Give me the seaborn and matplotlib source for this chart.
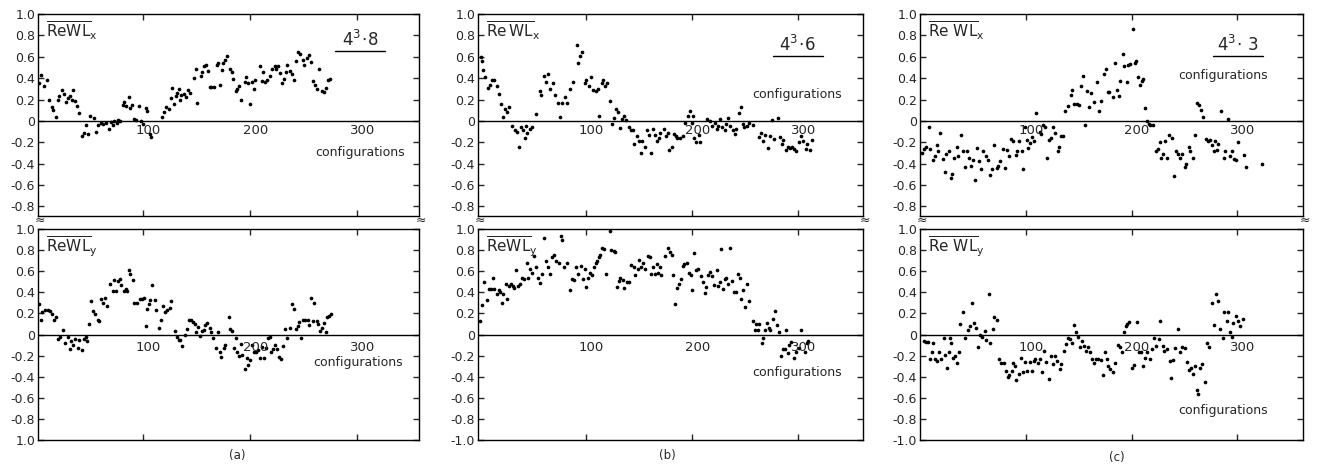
import numpy as np
import pandas as pd
import matplotlib
matplotlib.use('Agg')
import matplotlib.pyplot as plt
import seaborn as sns
from matplotlib.lines import Line2D

sns.set_style('ticks')
plt.rcParams['font.family'] = ['DejaVu Sans']

# ---------------- data (configuration number, value) ----------------
a_upper = [(3,0.35),(5,0.43),(8,0.33),(10,0.38),(12,0.20),(15,0.13),(16,0.10),(19,0.04),(21,0.20),(22,0.23),
           (24,0.29),(26,0.25),(28,0.18),(30,0.21),(32,0.23),(34,0.20),(35,0.29),(37,0.19),(38,0.14),(40,0.07),
           (43,-0.14),(45,-0.11),(47,-0.04),(49,-0.12),(51,0.05),(54,0.03),(56,-0.10),(58,-0.04),(61,-0.02),(63,-0.03),
           (66,-0.02),(68,-0.08),(70,-0.01),(72,-0.04),(73,0.00),(76,-0.02),(77,0.01),(79,0.00),(81,0.15),(82,0.18),
           (84,0.14),(87,0.22),(88,0.12),(90,0.15),(92,0.02),(94,0.01),(96,0.14),(98,0.00),(100,-0.03),(103,0.12),
           (104,0.09),(107,-0.12),(108,-0.15),(118,0.04),(120,0.08),(122,0.13),(124,0.11),(126,0.21),(127,0.31),(129,0.16),
           (131,0.23),(132,0.26),(134,0.30),(135,0.20),(136,0.24),(138,0.25),(140,0.22),(142,0.29),(144,0.26),(148,0.40),
           (150,0.49),(151,0.17),(154,0.42),(155,0.46),(157,0.51),(159,0.52),(161,0.47),(163,0.32),(164,0.32),(166,0.32),
           (169,0.52),(170,0.54),(172,0.34),(174,0.48),(175,0.54),(177,0.57),(179,0.61),(181,0.49),(183,0.46),(184,0.39),
           (187,0.28),(188,0.30),(190,0.33),(192,0.20),(195,0.36),(196,0.41),(198,0.35),(200,0.16),(202,0.36),(204,0.30),
           (205,0.38),(209,0.51),(211,0.37),(212,0.46),(214,0.36),(216,0.38),(219,0.42),(221,0.49),(223,0.51),(224,0.49),
           (226,0.51),(228,0.45),(230,0.35),(232,0.39),(234,0.46),(235,0.52),(237,0.47),(239,0.44),(241,0.38),(243,0.56),
           (245,0.64),(247,0.63),(250,0.57),(251,0.52),(253,0.59),(255,0.62),(257,0.55),(259,0.37),(261,0.34),(263,0.30),
           (265,0.49),(267,0.28),(269,0.27),(271,0.31),(273,0.38),(275,0.39)]

a_lower = [(3,0.29),(5,0.14),(6,0.21),(9,0.23),(11,0.23),(13,0.22),(15,0.19),(16.5,0.14),(19,0.17),(21,-0.04),
           (23,-0.02),(25.6,0.04),(27,-0.08),(30,-0.02),(32,-0.14),(33,-0.06),(35,-0.10),(37,-0.04),(39,-0.13),(40.6,-0.05),
           (43,-0.15),(45,-0.04),(47,-0.02),(48,-0.06),(50,0.10),(51.6,0.32),(53,0.22),(55.6,0.19),(58,0.14),(59,0.13),
           (61,0.34),(63,0.30),(65,0.35),(66.5,0.27),(69.7,0.48),(72,0.41),(73.4,0.52),(75,0.41),(77,0.51),(78.7,0.53),
           (80,0.47),(82,0.41),(84,0.43),(85,0.41),(87,0.61),(88,0.57),(90.6,0.52),(92,0.30),(94.7,0.30),(97,0.34),
           (99,0.34),(101,0.35),(102.5,0.08),(104,0.24),(105.6,0.29),(107,0.33),(108.8,0.47),(111,0.33),(112.5,0.23),(114.7,0.06),
           (117,0.14),(119,0.27),(121,0.21),(123,0.23),(125,0.25),(126.5,0.32),(129.7,0.03),(132,-0.02),(134,-0.05),(135,-0.05),
           (137,-0.11),(139,0.00),(141,0.05),(143,0.14),(144.7,0.14),(147,0.12),(148.4,0.10),(150,0.02),(151.6,0.07),(153,-0.01),
           (155,0.03),(157,0.04),(158,0.09),(160,0.11),(162.5,0.06),(164,0.02),(165.6,-0.03),(168,-0.13),(170,0.02),(172,-0.17),
           (173,-0.21),(176,-0.13),(177,-0.10),(180,0.17),(181,0.05),(183,0.03),(185,-0.13),(187,-0.03),(188,-0.17),(190,-0.20),
           (191.6,-0.09),(193,-0.19),(195,-0.33),(197,-0.22),(198,-0.29),(200,-0.24),(202,-0.10),(204,-0.17),(206,-0.17),(208,-0.15),
           (209,-0.22),(211,-0.12),(213,-0.22),(215,-0.13),(217,-0.03),(219,-0.02),(220,-0.17),(222,-0.14),(223,-0.10),(225,-0.14),
           (227,-0.21),(229,-0.23),(231,-0.11),(233,0.05),(235,-0.03),(237,0.06),(239,0.29),(241,0.24),(243,0.05),(245,0.08),
           (246,0.12),(248,-0.03),(250,0.14),(251.6,0.14),(254,0.14),(255.6,0.09),(257,0.35),(259,0.13),(260,0.30),(262.5,0.13),
           (264,0.10),(265.6,0.03),(267,0.06),(269,0.11),(271,0.02),(272,0.17),(274,0.18),(276,0.19)]

b_upper = [(1,0.60),(2,0.56),(3,0.48),(5,0.41),(7,0.31),(9,0.34),(11,0.38),(13.5,0.38),(16,0.33),(17.7,0.25),
           (20,0.16),(21.5,0.04),(23.7,0.11),(25.5,0.08),(27,0.13),(30,-0.05),(32.5,-0.09),(35,-0.10),(37,-0.24),(39,-0.06),
           (40.4,-0.09),(42,-0.16),(43,-0.05),(44.5,-0.11),(47,-0.08),(49,-0.06),(53,0.06),(56,0.28),(57.7,0.24),(60,0.42),
           (62.5,0.36),(64,0.44),(66,0.30),(69,0.35),(71,0.24),(73.5,0.17),(75.7,0.04),(77.6,0.17),(80,0.22),(82,0.17),
           (84.5,0.30),(87.7,0.36),(91,0.71),(92,0.54),(94,0.61),(95.6,0.64),(98.7,0.35),(100,0.38),(103,0.33),(105,0.41),
           (106.6,0.29),(108.8,0.28),(111,0.30),(112,0.05),(114.5,0.35),(116,0.38),(118,0.33),(120,0.35),(122,0.19),(124,-0.03),
           (126,0.03),(128,0.11),(130,0.08),(132,-0.07),(133.4,0.02),(136,0.05),(137.5,0.01),(140,-0.06),(142,-0.09),(144,-0.09),
           (145,-0.22),(148,-0.14),(150,-0.19),(152,-0.30),(153,-0.19),(155.5,-0.24),(157,-0.09),(159.6,-0.13),(161,-0.30),(163,-0.08),
           (165,-0.13),(166.6,-0.19),(168.8,-0.16),(170,-0.11),(173,-0.08),(175,-0.14),(177,-0.11),(178.5,-0.27),(181,-0.24),(183,-0.12),
           (185,-0.14),(186,-0.16),(188.6,-0.16),(191,-0.14),(193,-0.02),(195.6,0.05),(198,0.09),(200,-0.02),(201,0.05),(202,-0.16),
           (204,-0.20),(206,-0.13),(207.6,-0.20),(214,0.02),(216.4,0.00),(218.6,-0.05),(221,-0.02),(223,-0.08),(224,-0.05),(226.5,0.02),
           (228,-0.06),(230.5,-0.09),(232,-0.03),(233.4,0.03),(236,-0.05),(238,-0.09),(240,-0.12),(241.6,-0.08),(244,0.07),(246,0.13),
           (248,-0.03),(249,-0.06),(251.7,-0.05),(253.3,-0.02),(257,-0.04),(262.8,-0.15),(265,-0.11),(266.6,-0.19),(269,-0.13),(271.6,-0.25),
           (273,-0.14),(275,0.01),(277,-0.17),(281,0.03),(283,-0.15),(285,-0.22),(286,-0.18),(288,-0.27),(290,-0.24),(292,-0.25),
           (294,-0.24),(296,-0.26),(298,-0.28),(300.6,-0.20),(303,-0.14),(304.7,-0.19),(307,-0.26),(308.5,-0.22),(311,-0.27),(312.5,-0.18)]

b_lower = [(0,0.13),(2,0.28),(4,0.50),(6.5,0.33),(8,0.43),(10,0.43),(12,0.54),(13.4,0.43),(15.6,0.38),(17.5,0.42),
           (19,0.40),(20.6,0.30),(22,0.38),(24,0.48),(25.3,0.34),(27.5,0.46),(29,0.48),(30.6,0.46),(32,0.44),(34,0.61),
           (36,0.46),(37.5,0.48),(39.4,0.54),(41.5,0.53),(44,0.68),(45.6,0.54),(47,0.62),(49,0.58),(51,0.74),(53,0.64),
           (55,0.54),(56.6,0.49),(58,0.57),(60,0.91),(62.5,0.70),(64,0.64),(66,0.57),(68,0.73),(70,0.75),(72,0.70),
           (74,0.68),(76,0.93),(77.5,0.90),(79,0.64),(82,0.68),(85,0.42),(87,0.53),(88.4,0.52),(90.6,0.64),(92.5,0.57),
           (94.7,0.65),(97,0.53),(98.7,0.62),(100,0.45),(102,0.54),(104,0.58),(105.6,0.56),(107,0.64),(108.8,0.68),(110,0.70),
           (112,0.73),(113.4,0.75),(115,0.82),(116.5,0.81),(118.7,0.57),(122,0.98),(123.8,0.80),(126,0.79),(127.5,0.78),(129,0.45),
           (130.6,0.51),(132,0.54),(134.4,0.52),(136,0.44),(138.4,0.50),(140,0.50),(142,0.66),(144.7,0.64),(146,0.56),(148.4,0.62),
           (150,0.71),(152,0.64),(154,0.68),(155.6,0.62),(158,0.74),(160,0.73),(161,0.57),(163,0.64),(165,0.57),(166.6,0.67),
           (168,0.58),(169.7,0.64),(171,0.56),(174,0.74),(177,0.82),(179,0.78),(180.6,0.75),(182,0.56),(184,0.29),(186,0.44),
           (187.5,0.48),(189,0.53),(191,0.65),(192.5,0.67),(194.7,0.68),(197,0.58),(199,0.56),(200,0.42),(202,0.77),(204,0.61),
           (205.6,0.62),(207.8,0.55),(209.7,0.50),(212,0.39),(213.4,0.45),(215,0.56),(217,0.59),(218.8,0.55),(220.6,0.47),(223,0.61),
           (224.4,0.46),(226,0.50),(227.5,0.81),(229,0.43),(230.6,0.53),(232,0.54),(233.7,0.48),(236,0.82),(237.5,0.51),(239,0.40),
           (241.6,0.40),(243,0.57),(244.7,0.54),(246,0.34),(247.8,0.42),(250,0.26),(251.6,0.48),(253.4,0.32),(257,0.13),(258.7,0.04),
           (260,0.10),(262,0.04),(263.4,0.10),(265.6,-0.08),(267,-0.03),(268.7,0.04),(270.6,0.11),(272,0.06),(273.7,0.04),(276,0.15),
           (278,0.22),(280,0.09),(282,0.02),(284,-0.20),(285.3,-0.14),(287,-0.14),(288,0.04),(290,-0.18),(291.6,-0.10),(293,-0.07),
           (296,-0.22),(298,-0.17),(301,-0.13),(303,0.04),(306,-0.17),(308,-0.08),(309,-0.06)]

c_upper = [(2,-0.30),(4,-0.26),(6,-0.24),(8.5,-0.06),(9.5,-0.26),(12,-0.37),(14,-0.33),(16,-0.23),(17.4,-0.28),(19,-0.11),
           (21.5,-0.36),(23.7,-0.48),(25,-0.31),(27.4,-0.28),(29,-0.53),(30.6,-0.50),(32,-0.35),(34.7,-0.24),(36,-0.33),(38.5,-0.13),
           (41,-0.28),(42.6,-0.43),(44,-0.28),(46.4,-0.35),(48,-0.42),(50.5,-0.37),(52,-0.55),(53.6,-0.25),(56,-0.38),(57.7,-0.45),
           (60,-0.28),(62.5,-0.33),(64,-0.37),(66,-0.51),(68.5,-0.45),(70,-0.23),(72.5,-0.44),(74,-0.42),(76,-0.38),(78,-0.26),
           (80,-0.44),(82.6,-0.27),(84.5,-0.33),(86,-0.17),(88,-0.19),(90.5,-0.32),(92,-0.28),(94,-0.19),(96,-0.28),(97.8,-0.45),
           (99,-0.06),(101,-0.18),(102.5,-0.25),(104,-0.21),(106,-0.15),(108,-0.19),(110,0.07),(113,-0.10),(114.5,-0.12),(116.7,-0.04),
           (118,-0.06),(120,-0.35),(122,-0.18),(123.7,-0.16),(126,-0.06),(128,-0.11),(130,-0.28),(131.5,-0.24),(133.4,-0.14),(135.6,-0.14),
           (137,0.09),(140,0.14),(142.6,0.24),(144,0.29),(146,0.16),(148,0.16),(150,0.15),(152,0.33),(153.6,0.42),(155.5,-0.04),
           (158,0.28),(160,0.13),(161.5,0.26),(164.7,0.18),(167,0.36),(169.4,0.09),(171,0.19),(173.5,0.44),(175.7,0.49),(177.6,0.27),
           (179,0.27),(182,0.22),(184,0.54),(186,0.29),(187.7,0.23),(189,0.37),(192,0.63),(193,0.51),(195.6,0.36),(197,0.52),
           (198.7,0.53),(201,0.86),(203,0.54),(204.4,0.56),(206,0.41),(207.6,0.34),(210,0.37),(211,0.39),(213,0.12),(214.5,0.00),
           (216,-0.03),(217.7,-0.04),(220,-0.04),(223,-0.28),(225,-0.26),(226.5,-0.20),(228,-0.35),(229.7,-0.31),(232,-0.19),(233.4,-0.35),
           (235.6,-0.13),(238,-0.16),(240,-0.52),(242,-0.28),(243.5,-0.31),(245.4,-0.35),(247.6,-0.31),(250,-0.43),(251.7,-0.40),(254,-0.24),
           (255.5,-0.28),(257.7,-0.35),(260,-0.13),(262,0.17),(264,0.15),(266,0.10),(267.5,0.04),(270.6,-0.17),(272,-0.19),(273.8,-0.18),
           (276,-0.23),(277.6,-0.28),(279,-0.19),(281,-0.27),(282,-0.22),(284.5,0.09),(287,-0.35),(288.6,-0.28),(291,0.02),(293,-0.33),
           (295,-0.28),(297,-0.36),(298.7,-0.37),(300.6,-0.20),(306,-0.32),(308,-0.43),(323,-0.40)]

c_lower = [(4,-0.06),(6,-0.07),(8,-0.07),(9,-0.23),(11,-0.17),(12.5,-0.08),(14,-0.23),(15.6,-0.25),(18,-0.17),(19.7,-0.23),
           (22.5,-0.03),(24,-0.19),(25.6,-0.32),(27,-0.17),(28.7,-0.03),(29.7,-0.08),(31,-0.22),(33,-0.20),(35,-0.27),(37,-0.17),
           (38,0.10),(40.6,0.21),(43,-0.03),(45,0.04),(47,0.08),(49,0.30),(51,0.11),(52.5,0.06),(55,-0.12),(57,0.00),
           (59,-0.02),(61,0.03),(62,-0.05),(65,0.38),(66,-0.08),(69,0.05),(70,0.17),(73,0.14),(75,-0.23),(77,-0.27),
           (79,-0.27),(81,-0.35),(83,-0.40),(84,-0.38),(86.5,-0.35),(87.5,-0.27),(89.7,-0.30),(91,-0.43),(94,-0.37),(95,-0.22),
           (97,-0.36),(99,-0.26),(101.5,-0.35),(103.7,-0.26),(105.6,-0.35),(108,-0.25),(109,-0.23),(111.5,-0.27),(113,-0.23),(115.6,-0.36),
           (117,-0.16),(119,-0.26),(122,-0.42),(124,-0.20),(125.6,-0.28),(128,-0.20),(129.7,-0.25),(132,-0.33),(133.7,-0.28),(136,-0.16),
           (138,-0.09),(140,-0.03),(142,-0.04),(144,-0.08),(146,0.09),(147.5,0.02),(149,-0.02),(151.6,-0.12),(153,-0.06),(155,-0.11),
           (157,-0.16),(158.7,-0.12),(161,-0.17),(163,-0.23),(164.7,-0.27),(166.6,-0.23),(168.7,-0.23),(171,-0.24),(173,-0.38),(175,-0.17),
           (176.6,-0.23),(178,-0.30),(180,-0.33),(182,-0.36),(184,-0.27),(187,-0.10),(189,-0.12),(191,-0.17),(193,0.02),(194.4,0.08),
           (196,0.10),(198,0.12),(200,-0.32),(202,-0.29),(204.7,0.12),(207,-0.17),(209,-0.17),(211,-0.30),(212.5,-0.22),(215,-0.17),
           (217,-0.23),(219,-0.14),(221,-0.03),(223,-0.11),(225.6,-0.04),(227,0.13),(230,-0.11),(231,-0.16),(233.7,-0.14),(236,-0.25),
           (237.5,-0.41),(239,-0.24),(241,-0.13),(243.7,0.05),(246,-0.17),(248,-0.12),(250,-0.13),(252.5,-0.26),(254,-0.34),(256,-0.32),
           (258,-0.37),(260,-0.30),(262,-0.53),(263,-0.56),(265,-0.32),(267,-0.28),(269,-0.45),(271,-0.08),(273,-0.12),(275.6,0.30),
           (277.5,0.09),(280,0.38),(282,0.32),(284,0.05),(286,-0.03),(287.5,0.21),(290,0.13),(291,0.21),(293,0.02),(295,-0.02),
           (296,0.11),(299,0.18),(300.6,0.13),(302.5,0.08),(305,0.15)]

panel_tags = ['(a)', '(b)', '(c)']
lattice_labels = [r'$4^3\!\cdot\!8$', r'$4^3\!\cdot\!6$', r'$4^3\!\cdot\,3$']
upper_names = [r'$\overline{\mathrm{ReWL}}_{\mathrm{x}}$', r'$\overline{\mathrm{Re\,WL}}_{\mathrm{x}}$',
               r'$\overline{\mathrm{Re\ WL}}_{\mathrm{x}}$']
lower_names = [r'$\overline{\mathrm{ReWL}}_{\mathrm{y}}$', r'$\overline{\mathrm{ReWL}}_{\mathrm{y}}$',
               r'$\overline{\mathrm{Re\ WL}}_{\mathrm{y}}$']
x_ticks = [100, 200, 300]
x_tick_labels = ['100', '200', '300']
upper_yticks = [1.0, 0.8, 0.6, 0.4, 0.2, 0.0, -0.2, -0.4, -0.6, -0.8]
upper_yticklabels = ['1.0', '0.8', '0.6', '0.4', '0.2', '0', '-0.2', '-0.4', '-0.6', '-0.8']
lower_yticks = [1.0, 0.8, 0.6, 0.4, 0.2, 0.0, -0.2, -0.4, -0.6, -0.8, -1.0]
lower_yticklabels = [
    ['1.0', '0.8', '0.6', '0.4', '0.2', '0', '-0.2', '-0.4', '-0.6', '-0.8', '1.0'],
    ['1.0', '0.8', '0.6', '0.4', '0.2', '0', '-0.2', '-0.4', '-0.6', '-0.8', '-1.0'],
    ['1.0', '0.8', '0.6', '0.4', '0.2', '0', '-0.2', '-0.4', '-0.6', '-0.8', '-1.0'],
]
upper_data = [a_upper, b_upper, c_upper]
lower_data = [a_lower, b_lower, c_lower]

# ---------------- layout ----------------
W, H = 1319, 475
fig = plt.figure(figsize=(W / 100, H / 100), dpi=100)

lefts_px = [38, 478, 920]
rights_px = [419, 863, 1303]
xlims = [(2, 358), (-2, 361), (0, 362)]
up_top, up_bot = 14, 216
lo_top, lo_bot = 229, 440

conf_up = [(0.845, 0.315), (0.83, 0.60), (0.79, 0.695)]
conf_lo = [(0.84, 0.365), (0.83, 0.32), (0.79, 0.14)]
lat_pos = [(0.845, 0.87), (0.83, 0.845), (0.83, 0.845)]
tag_pos = [(237, 455), (667, 455), (1117, 458)]


def style_axes(ax, xlim, ylim, yticks, yticklabels, upper):
    ax.set_xlim(*xlim)
    ax.set_ylim(*ylim)
    ax.set_xticks(x_ticks)
    ax.set_xticklabels([])
    ax.set_yticks(yticks)
    ax.set_yticklabels(yticklabels)
    ax.tick_params(axis='x', which='both', top=True, bottom=True, direction='in',
                   length=4, width=1, labelbottom=False)
    ax.tick_params(axis='y', which='both', left=True, right=True, direction='in',
                   length=4, width=1, labelsize=9, pad=2)
    for s in ax.spines.values():
        s.set_linewidth(1.0)
        s.set_color('black')
        s.set_visible(True)
    ax.axhline(0, color='black', lw=1.0, zorder=1)
    ax.set_xlabel('')
    ax.set_ylabel('')
    off = -0.09 if upper else -0.12
    for t, lab in zip(x_ticks, x_tick_labels):
        ax.text(t + 5, off, lab, ha='center', va='center', fontsize=9.5)


for i in range(3):
    l = lefts_px[i] / W
    w = (rights_px[i] - lefts_px[i]) / W
    ax_u = fig.add_axes([l, 1 - up_bot / H, w, (up_bot - up_top) / H])
    ax_l = fig.add_axes([l, 1 - lo_bot / H, w, (lo_bot - lo_top) / H])

    du = pd.DataFrame(upper_data[i], columns=['config', 'value'])
    dl = pd.DataFrame(lower_data[i], columns=['config', 'value'])
    sns.scatterplot(data=du, x='config', y='value', ax=ax_u, color='black', s=7,
                    linewidth=0, legend=False, zorder=3)
    sns.scatterplot(data=dl, x='config', y='value', ax=ax_l, color='black', s=7,
                    linewidth=0, legend=False, zorder=3)

    style_axes(ax_u, xlims[i], (-0.89, 1.0), upper_yticks, upper_yticklabels, True)
    style_axes(ax_l, xlims[i], (-1.0, 1.0), lower_yticks, lower_yticklabels[i], False)

    ax_u.text(0.02, 0.915, upper_names[i], transform=ax_u.transAxes, fontsize=11,
              ha='left', va='center')
    ax_l.text(0.02, 0.915, lower_names[i], transform=ax_l.transAxes, fontsize=11,
              ha='left', va='center')

    lx, ly = lat_pos[i]
    ax_u.text(lx, ly, lattice_labels[i], transform=ax_u.transAxes, fontsize=12,
              ha='center', va='center')
    ax_u.add_line(Line2D([lx - 0.065, lx + 0.065], [ly - 0.055, ly - 0.055],
                         transform=ax_u.transAxes, color='black', lw=1.0))

    cx, cy = conf_up[i]
    ax_u.text(cx, cy, 'configurations', transform=ax_u.transAxes, fontsize=9,
              ha='center', va='center')
    cx, cy = conf_lo[i]
    ax_l.text(cx, cy, 'configurations', transform=ax_l.transAxes, fontsize=9,
              ha='center', va='center')

    # axis break marks on the spines between the two halves
    for xp in (lefts_px[i], rights_px[i]):
        fig.text((xp + 2) / W, 1 - 220 / H, '≈', ha='center', va='center', fontsize=9)

    tx, ty = tag_pos[i]
    fig.text(tx / W, 1 - ty / H, panel_tags[i], ha='center', va='center', fontsize=8.5)

fig.savefig('out.png', dpi=100)
